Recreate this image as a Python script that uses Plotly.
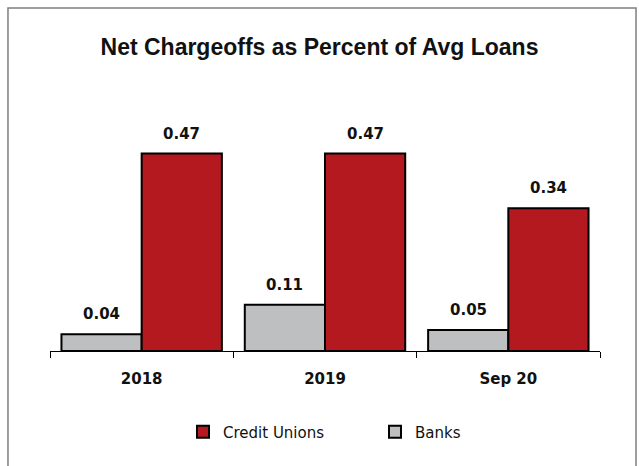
import plotly.graph_objects as go

# Net chargeoffs as a percent of average loans
periods = ["2018", "2019", "Sep 20"]
banks = [0.04, 0.11, 0.05]
credit_unions = [0.47, 0.47, 0.34]

BANK_COLOR = "#BEBFC1"
CU_COLOR = "#B3191F"
BAR_GAP = 0.125
LABEL_FONT = dict(family="DejaVu Sans", size=15, color="#111111")

fig = go.Figure()
fig.add_trace(go.Bar(
    x=periods, y=banks, name="Banks",
    marker=dict(color=BANK_COLOR, line=dict(color="#000000", width=2)),
    legendrank=2,
))
fig.add_trace(go.Bar(
    x=periods, y=credit_unions, name="Credit Unions",
    marker=dict(color=CU_COLOR, line=dict(color="#000000", width=2)),
    legendrank=1,
))

# value labels above each bar
half = (1 - BAR_GAP) / 4
for i, p in enumerate(periods):
    for vals, off in ((banks, -half), (credit_unions, half)):
        fig.add_annotation(
            x=i + off, y=vals[i], xref="x", yref="y",
            text=f"<b>{vals[i]:.2f}</b>", showarrow=False,
            yanchor="bottom", yshift=9, font=LABEL_FONT,
        )

# outer frame
fig.add_shape(
    type="rect", xref="paper", yref="paper",
    x0=-0.0764, x1=1.0655, y0=-0.48, y1=1.361,
    line=dict(color="#7F7F7F", width=1.5), fillcolor="rgba(0,0,0,0)",
    layer="below",
)

fig.update_layout(
    width=639, height=466,
    margin=dict(l=50, r=39, t=99, b=115),
    paper_bgcolor="white", plot_bgcolor="white",
    barmode="group", bargap=BAR_GAP, bargroupgap=0,
    title=dict(
        text="<b>Net Chargeoffs as Percent of Avg Loans</b>",
        x=0.5, xanchor="center", y=1 - 47 / 466, yanchor="middle",
        font=dict(family="Liberation Sans", size=23, color="#111111"),
    ),
    xaxis=dict(
        type="category", showline=True, linecolor="#000000", linewidth=1,
        ticks="outside", tickson="boundaries", ticklen=6, tickcolor="#000000",
        ticklabelstandoff=14,
        tickfont=dict(family="DejaVu Sans", size=15, color="#111111"),
        tickprefix="<b>", ticksuffix="</b>", showgrid=False,
    ),
    yaxis=dict(range=[0, 0.6], visible=False, showgrid=False),
    showlegend=True,
    legend=dict(
        orientation="h", x=(183 - 50) / 550, xanchor="left",
        y=-(432 - 351) / 252, yanchor="middle",
        font=dict(family="DejaVu Sans", size=15, color="#111111"),
        itemwidth=30, entrywidth=147, traceorder="normal",
    ),
)

fig.write_html("out.html")
